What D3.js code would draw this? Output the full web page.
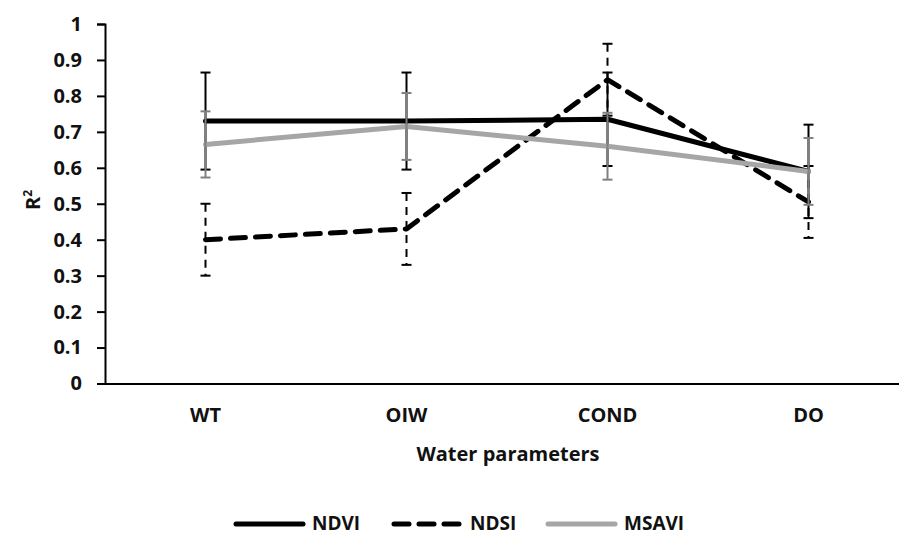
<!DOCTYPE html>
<html>
<head>
<meta charset="utf-8">
<script src="https://cdn.jsdelivr.net/npm/d3@7"></script>
<style>
  body { margin: 0; background: #fff; }
  svg text { font-family: "Open Sans", sans-serif; font-weight: 700; fill: #111; }
</style>
</head>
<body>
<div id="chart"></div>
<script>
// chart values
var categories = ["WT", "OIW", "COND", "DO"];
var yTicks = [0, 0.1, 0.2, 0.3, 0.4, 0.5, 0.6, 0.7, 0.8, 0.9, 1];

var ndvi = [0.73, 0.73, 0.735, 0.59];
var ndviErr = [0.135, 0.135, 0.13, 0.13];
var ndsi = [0.40, 0.43, 0.845, 0.505];
var ndsiErr = [0.10, 0.10, 0.10, 0.10];
var msavi = [0.665, 0.715, 0.66, 0.59];
var msaviErr = [0.092, 0.093, 0.093, 0.093];

var seriesNames = ["NDVI", "NDSI", "MSAVI"];

var width = 899;
var height = 535;

var svg = d3.select("#chart")
  .append("svg")
  .attr("width", width)
  .attr("height", height);

var xScale = d3.scaleBand()
  .domain(categories)
  .range([105, 909]);

var yScale = d3.scaleLinear()
  .domain([0, 1])
  .range([383.5, 24]);

// series styling
var series = [
  { name: seriesNames[0], values: ndvi, err: ndviErr, color: "#000", dash: null,
    errColor: "#000", errDash: null },
  { name: seriesNames[1], values: ndsi, err: ndsiErr, color: "#000", dash: "15,10",
    errColor: "#000", errDash: "8,6" },
  { name: seriesNames[2], values: msavi, err: msaviErr, color: "#a6a6a6", dash: null,
    errColor: "#808080", errDash: null }
];

// y axis
var yAxis = d3.axisLeft(yScale)
  .tickValues(yTicks)
  .tickSize(8)
  .tickPadding(15)
  .tickFormat(function(d) { return (d === 0 || d === 1) ? d : d.toFixed(1); });

var yG = svg.append("g")
  .attr("transform", "translate(105,0)")
  .call(yAxis);
yG.select(".domain").attr("stroke", "#000").attr("stroke-width", 2);
yG.selectAll(".tick line").attr("stroke", "#000").attr("stroke-width", 2);
yG.selectAll(".tick text")
  .attr("font-size", 20)
  .style("font-family", "'Open Sans', sans-serif")
  .style("font-weight", 700)
  .attr("fill", "#111");

// x axis (line only, labels centred in each band)
var xAxis = d3.axisBottom(xScale).tickSize(0).tickPadding(24);
var xG = svg.append("g")
  .attr("transform", "translate(0," + yScale(0) + ")")
  .call(xAxis);
xG.select(".domain").attr("stroke", "#000").attr("stroke-width", 2);
xG.selectAll(".tick text")
  .attr("font-size", 20)
  .style("font-family", "'Open Sans', sans-serif")
  .style("font-weight", 700)
  .attr("fill", "#111");

// axis titles
svg.append("text")
  .attr("x", 508)
  .attr("y", 461)
  .attr("text-anchor", "middle")
  .attr("font-size", 20)
  .text("Water parameters");

var yTitle = svg.append("text")
  .attr("transform", "translate(40,200)rotate(-90)")
  .attr("text-anchor", "middle")
  .attr("font-size", 20);
yTitle.append("tspan").text("R");
yTitle.append("tspan").attr("font-size", 12).attr("dy", -8).text("2");

var cx = function(i) { return xScale(categories[i]) + xScale.bandwidth() / 2; };

var line = d3.line()
  .x(function(d, i) { return cx(i); })
  .y(function(d) { return yScale(d); });

series.forEach(function(s) {
  var g = svg.append("g").attr("class", "series");

  g.append("path")
    .datum(s.values)
    .attr("d", line)
    .attr("fill", "none")
    .attr("stroke", s.color)
    .attr("stroke-width", 5)
    .attr("stroke-linejoin", "round")
    .attr("stroke-linecap", "round")
    .attr("stroke-dasharray", s.dash);

  // error bars
  var bars = g.selectAll(".err").data(s.values).enter().append("g");
  bars.append("line")
    .attr("x1", function(d, i) { return cx(i); })
    .attr("x2", function(d, i) { return cx(i); })
    .attr("y1", function(d, i) { return yScale(d + s.err[i]); })
    .attr("y2", function(d, i) { return yScale(d - s.err[i]); })
    .attr("stroke", s.errColor)
    .attr("stroke-width", 2)
    .attr("stroke-dasharray", s.errDash);
  [1, -1].forEach(function(sign) {
    bars.append("line")
      .attr("x1", function(d, i) { return cx(i) - 5; })
      .attr("x2", function(d, i) { return cx(i) + 5; })
      .attr("y1", function(d, i) { return yScale(d + sign * s.err[i]); })
      .attr("y2", function(d, i) { return yScale(d + sign * s.err[i]); })
      .attr("stroke", s.errColor)
      .attr("stroke-width", 2);
  });
});

// legend
var legendX = [234, 392, 546];
var legend = svg.append("g").attr("transform", "translate(0,524)");
series.forEach(function(s, i) {
  legend.append("line")
    .attr("x1", legendX[i] + 2)
    .attr("x2", legendX[i] + 69)
    .attr("stroke", s.color)
    .attr("stroke-width", 5)
    .attr("stroke-linecap", "round")
    .attr("stroke-dasharray", s.dash);
  legend.append("text")
    .attr("x", legendX[i] + 78)
    .attr("y", 6)
    .attr("font-size", 19)
    .text(s.name);
});
</script>
</body>
</html>
